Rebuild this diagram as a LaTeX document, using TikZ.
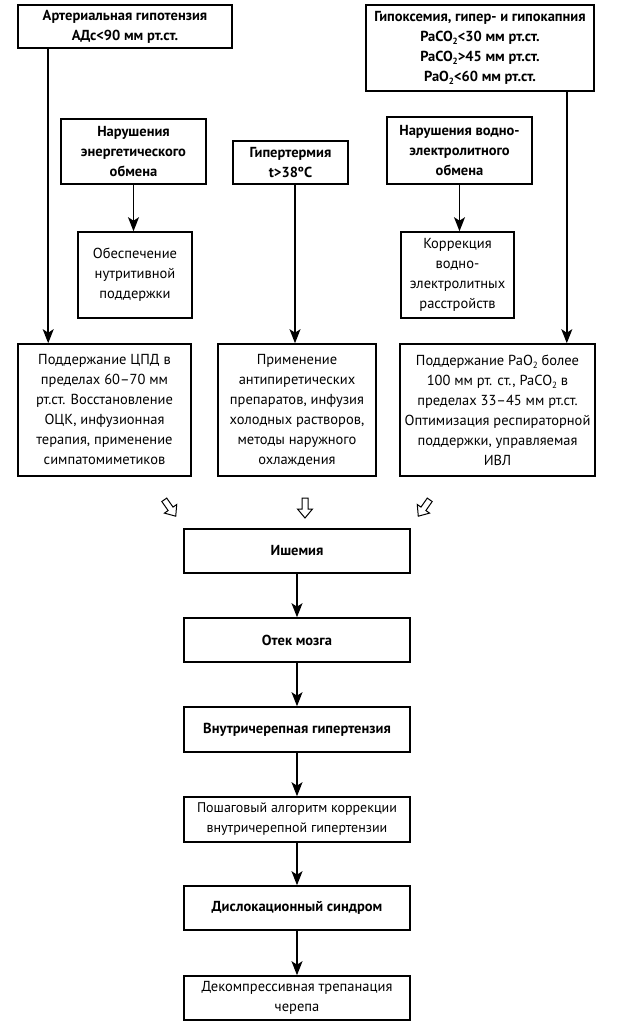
\documentclass[tikz,border=0pt]{standalone}
\usepackage{fontspec}
\setmainfont{PT Sans}
\usetikzlibrary{arrows.meta,calc}
\newcommand{\lowsub}[1]{\raisebox{-0.4ex}{\fontsize{9}{9}\selectfont #1}}
\begin{document}
\begin{tikzpicture}[x=1pt,y=-1pt,
  box/.style={draw,line width=1.6pt,inner sep=0pt,align=center,font=\fontsize{14.5}{20}\selectfont},
  bbox/.style={box,font=\fontsize{14.5}{20}\selectfont\bfseries},
  arr/.style={line width=1.6pt,-{Stealth[length=14pt,width=11pt,inset=3.5pt]}},
  hollow/.style={draw,line width=1pt,line join=miter}]
\useasboundingbox (0,0) rectangle (627,1024);
% top row
\node[bbox,minimum width=214pt,minimum height=43pt] (A1) at (125,26.5) {Артериальная гипотензия\\АДс<90 мм рт.ст.};
\node[bbox,minimum width=228pt,minimum height=86pt] (A2) at (480,48) {Гипоксемия, гипер- и гипокапния\\PaCO\lowsub{2}<30 мм рт.ст.\\PaCO\lowsub{2}>45 мм рт.ст.\\PaO\lowsub{2}<60 мм рт.ст.};
% second row
\node[bbox,minimum width=145pt,minimum height=65pt] (B1) at (133.5,151.5) {Нарушения\\энергетического\\обмена};
\node[bbox,minimum width=115pt,minimum height=43pt] (B2) at (290.5,162.5) {Гипертермия\\t>38ºC};
\node[bbox,minimum width=145pt,minimum height=67pt] (B3) at (459.5,150.5) {Нарушения водно-\\электролитного\\обмена};
% third row
\node[box,minimum width=114pt,minimum height=86pt] (C1) at (135,275) {Обеспечение\\нутритивной\\поддержки};
\node[box,minimum width=113pt,minimum height=86pt] (C3) at (457.5,275) {Коррекция\\водно-\\электролитных\\расстройств};
% fourth row
\node[box,minimum width=173pt,minimum height=132pt] (D1) at (104.5,410) {Поддержание ЦПД в\\пределах 60–70 мм\\рт.ст. Восстановление\\ОЦК, инфузионная\\терапия, применение\\симпатомиметиков};
\node[box,minimum width=158pt,minimum height=132pt] (D2) at (297,410) {Применение\\антипиретических\\препаратов, инфузия\\холодных растворов,\\методы наружного\\охлаждения};
\node[box,minimum width=195pt,minimum height=132pt] (D3) at (497.5,410) {Поддержание PaO\lowsub{2} более\\100 мм рт. ст., PaCO\lowsub{2} в\\пределах 33–45 мм рт.ст.\\Оптимизация респираторной\\поддержки, управляемая\\ИВЛ};
% hollow arrows
\foreach \hx/\hr in {170/35, 305/0, 424/-35}{
  \draw[hollow,shift={(\hx,508)},rotate=\hr] (-3,-10) -- (3,-10) -- (3,1) -- (7.5,1) -- (0,10) -- (-7.5,1) -- (-3,1) -- cycle;
}
% lower chain
\node[bbox,minimum width=226pt,minimum height=44pt] (E1) at (297,551) {Ишемия};
\node[bbox,minimum width=226pt,minimum height=44pt] (E2) at (297,640) {Отек мозга};
\node[bbox,minimum width=226pt,minimum height=45pt] (E3) at (297,729.5) {Внутричерепная гипертензия};
\node[box,minimum width=226pt,minimum height=45pt,font=\fontsize{14}{20}\selectfont] (E4) at (297,819.5) {Пошаговый алгоритм коррекции\\внутричерепной гипертензии};
\node[bbox,minimum width=226pt,minimum height=44pt] (E5) at (297,908) {Дислокационный синдром};
\node[box,minimum width=226pt,minimum height=44pt] (E6) at (297,998) {Декомпрессивная трепанация\\черепа};
% connectors
\draw[arr] ([xshift=31pt]A1.south west) -- ([xshift=31pt]A1.south west |- D1.north);
\draw[arr] ([xshift=-28pt]A2.south east) -- ([xshift=-28pt]A2.south east |- D3.north);
\draw[arr] (B1.south) -- (B1.south |- C1.north);
\draw[arr] (B3.south) -- (B3.south |- C3.north);
\draw[arr] ([xshift=-2pt]D2.north |- B2.south) -- ([xshift=-2pt]D2.north);
\draw[arr] (E1) -- (E2);
\draw[arr] (E2) -- (E3);
\draw[arr] (E3) -- (E4);
\draw[arr] (E4) -- (E5);
\draw[arr] (E5) -- (E6);
\end{tikzpicture}
\end{document}
